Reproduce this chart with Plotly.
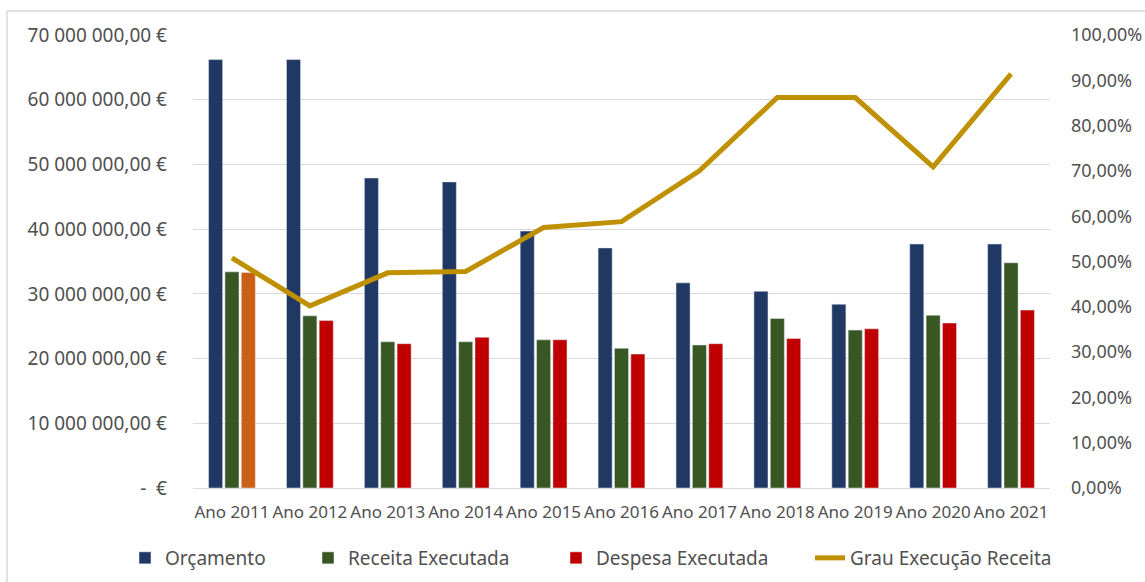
import plotly.graph_objects as go

anos = ["Ano 2011", "Ano 2012", "Ano 2013", "Ano 2014", "Ano 2015", "Ano 2016",
        "Ano 2017", "Ano 2018", "Ano 2019", "Ano 2020", "Ano 2021"]
orcamento = [66.2e6, 66.2e6, 47.9e6, 47.3e6, 39.7e6, 37.1e6, 31.7e6, 30.4e6, 28.4e6, 37.7e6, 37.7e6]
receita = [33.4e6, 26.6e6, 22.6e6, 22.6e6, 22.9e6, 21.6e6, 22.1e6, 26.2e6, 24.4e6, 26.7e6, 34.8e6]
despesa = [33.3e6, 25.9e6, 22.3e6, 23.3e6, 22.9e6, 20.7e6, 22.3e6, 23.1e6, 24.6e6, 25.5e6, 27.5e6]
grau = [50.8, 40.2, 47.5, 47.8, 57.5, 58.8, 70.0, 86.2, 86.2, 70.9, 91.4]

# index of the Despesa bar shown in orange in the original
destaque = [0]

left_vals = [0, 10e6, 20e6, 30e6, 40e6, 50e6, 60e6, 70e6]
left_text = ["-  €", "10 000 000,00 €", "20 000 000,00 €", "30 000 000,00 €",
             "40 000 000,00 €", "50 000 000,00 €", "60 000 000,00 €", "70 000 000,00 €"]
right_vals = [0, 10, 20, 30, 40, 50, 60, 70, 80, 90, 100]
right_text = ["0,00%", "10,00%", "20,00%", "30,00%", "40,00%", "50,00%",
              "60,00%", "70,00%", "80,00%", "90,00%", "100,00%"]

NAVY = "#203864"
GREEN = "#385723"
RED = "#C00000"
ORANGE = "#C96016"
GOLD = "#BF9000"
TXT = "#505050"
FONT = "Noto Sans"

normais = [i for i in range(len(anos)) if i not in destaque]

fig = go.Figure()
fig.add_trace(go.Bar(x=anos, y=orcamento, name="Orçamento", marker_color=NAVY,
                     legend="legend"))
fig.add_trace(go.Bar(x=anos, y=receita, name="Receita Executada", marker_color=GREEN,
                     legend="legend2"))
fig.add_trace(go.Bar(x=anos, y=despesa, name="Despesa Executada",
                     marker=dict(color=RED), legend="legend3",
                     selectedpoints=normais,
                     selected=dict(marker=dict(color=RED, opacity=1)),
                     unselected=dict(marker=dict(color=ORANGE, opacity=1))))
fig.add_trace(go.Scatter(x=anos, y=grau, name="Grau Execução Receita", mode="lines",
                         line=dict(color=GOLD, width=5), yaxis="y2", legend="legend4"))

W, H = 1145, 582
L, R, T, B = 193, 95, 35, 94
pw = W - L - R
ph = H - T - B

def px_x(p):
    return (p - L) / pw

def px_y(p):
    return (H - B - p) / ph

leg_common = dict(orientation="h", yanchor="middle", xanchor="left",
                  y=px_y(558), bgcolor="rgba(0,0,0,0)",
                  font=dict(family=FONT, size=19, color=TXT))
legs = {}
for key, tx in zip(["legend", "legend2", "legend3", "legend4"], [167, 350, 598, 852]):
    legs[key] = dict(leg_common, x=px_x(tx - 42))

fig.update_layout(
    width=W, height=H,
    margin=dict(l=L, r=R, t=T, b=B, autoexpand=False),
    paper_bgcolor="white", plot_bgcolor="white",
    barmode="group", bargap=0.37, bargroupgap=0.14,
    font=dict(family=FONT, color=TXT),
    xaxis=dict(tickfont=dict(family=FONT, size=17, color=TXT), showgrid=False,
               showline=True, linecolor="#D9D9D9", linewidth=1, ticks="",
               ticklabelstandoff=9),
    yaxis=dict(range=[0, 70e6], tickvals=left_vals, ticktext=left_text,
               tickfont=dict(family=FONT, size=19, color=TXT),
               showgrid=True, gridcolor="#D9D9D9", gridwidth=1, zeroline=False,
               ticklabelstandoff=25),
    yaxis2=dict(range=[0, 100], tickvals=right_vals, ticktext=right_text,
                overlaying="y", side="right", showgrid=False, zeroline=False,
                tickfont=dict(family=FONT, size=18, color=TXT), ticklabelstandoff=20),
    showlegend=True,
    **legs,
    shapes=[dict(type="rect", xref="paper", yref="paper",
                 x0=px_x(7), x1=px_x(1200), y0=px_y(640), y1=px_y(11),
                 line=dict(color="#D9D9D9", width=1.5), fillcolor="rgba(0,0,0,0)",
                 layer="below")],
)

fig.write_html("out.html", config={"displayModeBar": False},
               post_script="document.body.style.margin='0';")
